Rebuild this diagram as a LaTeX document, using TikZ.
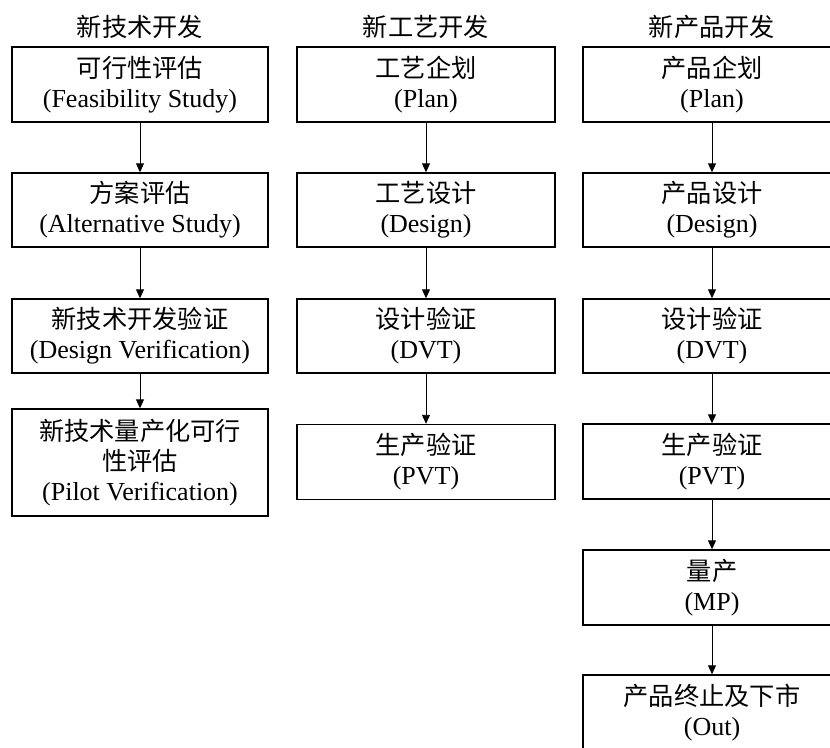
\documentclass[tikz,border=0pt]{standalone}
\usepackage{fontspec}
\setmainfont{Liberation Serif}
\newfontfamily\cjk[Scale=0.97]{Noto Sans CJK SC}
\usetikzlibrary{arrows.meta}
\tikzset{
  stagebox/.style={draw=black, line width=1.4pt, fill=white, inner sep=0pt,
    minimum height=75pt, align=center, font=\fontsize{26}{30}\selectfont},
  col1/.style={minimum width=256pt},
  col2/.style={minimum width=258pt},
  col3/.style={minimum width=258pt},
  heading/.style={inner sep=0pt, font=\fontsize{26}{30}\selectfont\cjk},
  flow/.style={line width=0.9pt, -{Triangle[width=8pt,length=9pt]}}
}
\begin{document}
\begin{tikzpicture}[x=1pt,y=-1pt]
\clip (0,0) rectangle (830,747);
\fill[white] (0,0) rectangle (830,747);
% headings
\node[heading] (h1) at (140,27) {新技术开发};
\node[heading] (h2) at (426,27) {新工艺开发};
\node[heading] (h3) at (712,27) {新产品开发};
% column 1
\node[stagebox,col1] (a1) at (140,84.5) {{\cjk 可行性评估}\\(Feasibility Study)};
\node[stagebox,col1,minimum height=74pt] (a2) at (140,210) {{\cjk 方案评估}\\(Alternative Study)};
\node[stagebox,col1,minimum height=74pt] (a3) at (140,336) {{\cjk 新技术开发验证}\\(Design Verification)};
\node[stagebox,col1,minimum height=107pt] (a4) at (140,462.5) {{\cjk 新技术量产化可行}\\{\cjk 性评估}\\(Pilot Verification)};
% column 2
\node[stagebox,col2] (b1) at (426,84.5) {{\cjk 工艺企划}\\(Plan)};
\node[stagebox,col2,minimum height=74pt] (b2) at (426,210) {{\cjk 工艺设计}\\(Design)};
\node[stagebox,col2,minimum height=74pt] (b3) at (426,336) {{\cjk 设计验证}\\(DVT)};
\node[stagebox,col2] (b4) at (426,462) {{\cjk 生产验证}\\(PVT)};
% column 3
\node[stagebox,col3] (c1) at (712,84.5) {{\cjk 产品企划}\\(Plan)};
\node[stagebox,col3,minimum height=74pt] (c2) at (712,210) {{\cjk 产品设计}\\(Design)};
\node[stagebox,col3,minimum height=74pt] (c3) at (712,336) {{\cjk 设计验证}\\(DVT)};
\node[stagebox,col3] (c4) at (712,461.5) {{\cjk 生产验证}\\(PVT)};
\node[stagebox,col3] (c5) at (712,587.5) {{\cjk 量产}\\(MP)};
\node[stagebox,col3] (c6) at (712,712.5) {{\cjk 产品终止及下市}\\(Out)};
% connectors
\draw[flow] (a1) -- (a2);
\draw[flow] (a2) -- (a3);
\draw[flow] (a3) -- (a4);
\draw[flow] (b1) -- (b2);
\draw[flow] (b2) -- (b3);
\draw[flow] (b3) -- (b4);
\draw[flow] (c1) -- (c2);
\draw[flow] (c2) -- (c3);
\draw[flow] (c3) -- (c4);
\draw[flow] (c4) -- (c5);
\draw[flow] (c5) -- (c6);
\end{tikzpicture}
\end{document}
